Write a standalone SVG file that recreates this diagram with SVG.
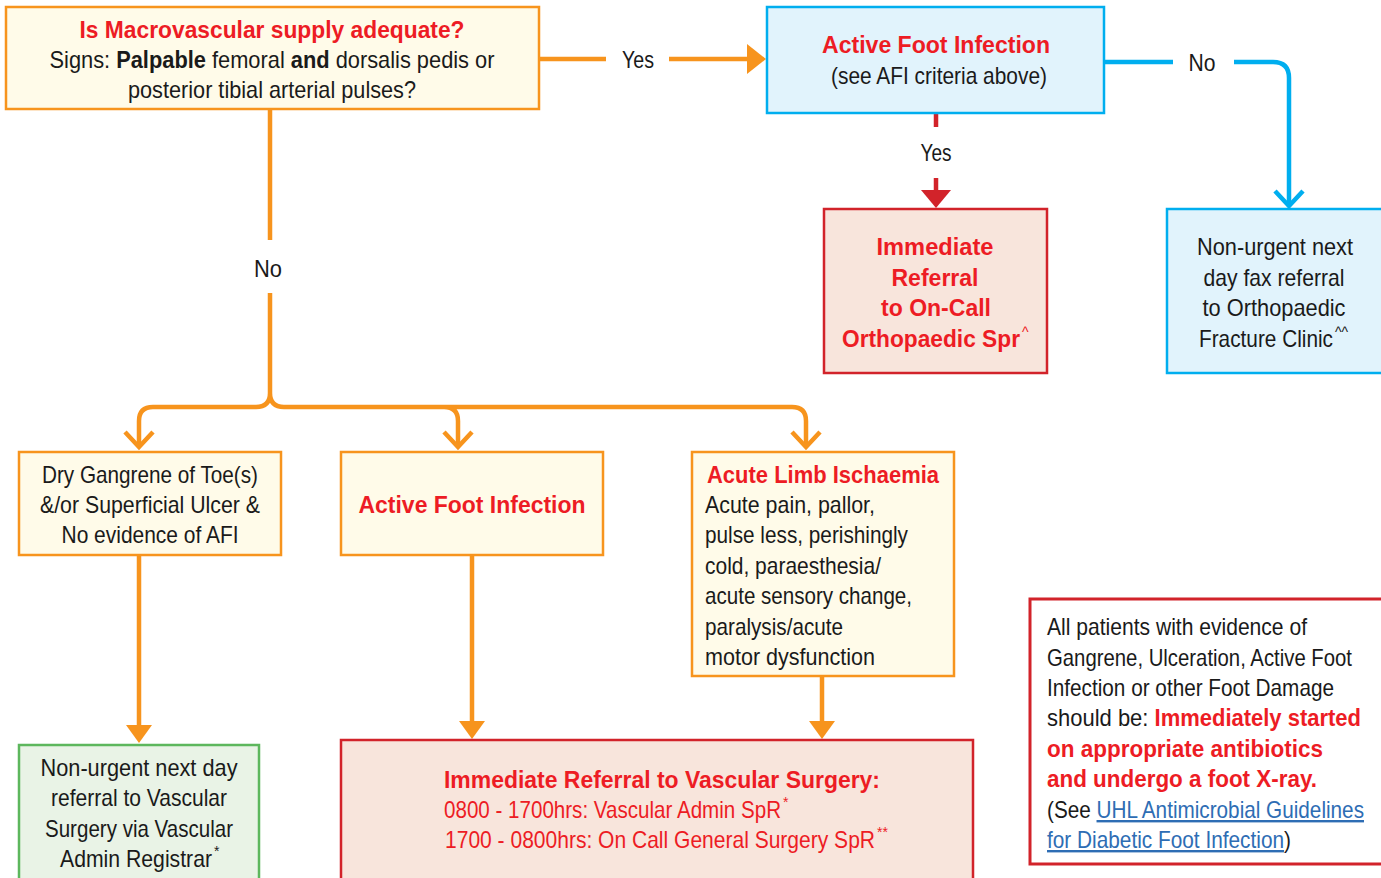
<svg xmlns="http://www.w3.org/2000/svg" width="1381" height="878" viewBox="0 0 1381 878">
<style>
text{font-family:"Liberation Sans",Arial,sans-serif;font-size:24px;fill:#1a1a1a}
.c{text-anchor:middle}
.r{fill:#ed1c24}
.b{font-weight:bold}
.sup{font-size:14px}
.cream{fill:#fffbe9;stroke:#f7941d;stroke-width:2.5}
.blue{fill:#e1f3fc;stroke:#00aeef;stroke-width:2.5}
.pink{fill:#f8e5dc;stroke:#d2232a;stroke-width:2.5}
.green{fill:#e9f3e6;stroke:#5db75d;stroke-width:2.5}
.note{fill:#ffffff;stroke:#d2232a;stroke-width:3}
.lo{fill:none;stroke:#f7941d;stroke-width:4.5}
.lb{fill:none;stroke:#00aeef;stroke-width:4.5}
.lr{fill:none;stroke:#d2232a;stroke-width:4.5}
.link{fill:#2e6db4;text-decoration:underline}
</style>
<g id="connectors">
<path class="lo" d="M539,59 H606 M669,59 H749"/>
<polygon points="747,44 766,59 747,74" fill="#f7941d"/>
<text class="c" x="638" y="68" textLength="32" lengthAdjust="spacingAndGlyphs">Yes</text>
<path class="lb" d="M1104,62 H1173 M1234,62 H1273 Q1289,62 1289,78 V205"/>
<path class="lb" d="M1275,191 L1289,206 L1303,191"/>
<text class="c" x="1202" y="71" textLength="27" lengthAdjust="spacingAndGlyphs">No</text>
<path class="lr" d="M936,113 V127 M936,178 V191"/>
<polygon points="921,190 951,190 936,208" fill="#d2232a"/>
<text class="c" x="936" y="161" textLength="31" lengthAdjust="spacingAndGlyphs">Yes</text>
<path class="lo" d="M270,109 V240 M270,293 V393 Q270,407 256,407 H153 Q139,407 139,421 V446 M270,393 Q270,407 284,407 H792 Q806,407 806,421 V446 M444,407 Q458,407 458,421 V446"/>
<path class="lo" d="M125,432 L139,447 L153,432 M444,432 L458,447 L472,432 M792,432 L806,447 L820,432"/>
<text class="c" x="268" y="277" textLength="28" lengthAdjust="spacingAndGlyphs">No</text>
<path class="lo" d="M139,555 V726 M472,555 V722 M822,676 V722"/>
<polygon points="126,725 152,725 139,743" fill="#f7941d"/>
<polygon points="459,721 485,721 472,739" fill="#f7941d"/>
<polygon points="809,721 835,721 822,739" fill="#f7941d"/>
</g>
<g id="macrovascular">
<rect class="cream" x="6" y="7" width="533" height="102"/>
<text class="c r b" x="272" y="38" textLength="385" lengthAdjust="spacingAndGlyphs">Is Macrovascular supply adequate?</text>
<text class="c" x="272" y="68" textLength="445" lengthAdjust="spacingAndGlyphs">Signs: <tspan class="b">Palpable</tspan> femoral <tspan class="b">and</tspan> dorsalis pedis or</text>
<text class="c" x="272" y="98" textLength="288" lengthAdjust="spacingAndGlyphs">posterior tibial arterial pulses?</text>
</g>
<g id="afi-top">
<rect class="blue" x="767" y="7" width="337" height="106"/>
<text class="c r b" x="936" y="53" textLength="228" lengthAdjust="spacingAndGlyphs">Active Foot Infection</text>
<text class="c" x="939" y="84" textLength="216" lengthAdjust="spacingAndGlyphs">(see AFI criteria above)</text>
</g>
<g id="ortho-spr">
<rect class="pink" x="824" y="209" width="223" height="164"/>
<text class="c r b" x="935" y="255" textLength="117" lengthAdjust="spacingAndGlyphs">Immediate</text>
<text class="c r b" x="935" y="286" textLength="87" lengthAdjust="spacingAndGlyphs">Referral</text>
<text class="c r b" x="936" y="316" textLength="110" lengthAdjust="spacingAndGlyphs">to On-Call</text>
<text class="r b" x="842" y="347" textLength="178" lengthAdjust="spacingAndGlyphs">Orthopaedic Spr</text>
<text class="r sup" x="1022" y="337">^</text>
</g>
<g id="fracture-clinic">
<rect class="blue" x="1167" y="209" width="220" height="164"/>
<text class="c" x="1275" y="255" textLength="156" lengthAdjust="spacingAndGlyphs">Non-urgent next</text>
<text class="c" x="1274" y="286" textLength="141" lengthAdjust="spacingAndGlyphs">day fax referral</text>
<text class="c" x="1274" y="316" textLength="143" lengthAdjust="spacingAndGlyphs">to Orthopaedic</text>
<text x="1199" y="347" textLength="134" lengthAdjust="spacingAndGlyphs">Fracture Clinic</text>
<text class="sup" x="1335" y="337">^^</text>
</g>
<g id="dry-gangrene">
<rect class="cream" x="19" y="452" width="262" height="103"/>
<text class="c" x="150" y="483" textLength="216" lengthAdjust="spacingAndGlyphs">Dry Gangrene of Toe(s)</text>
<text class="c" x="150" y="513" textLength="220" lengthAdjust="spacingAndGlyphs">&amp;/or Superficial Ulcer &amp;</text>
<text class="c" x="150" y="543" textLength="177" lengthAdjust="spacingAndGlyphs">No evidence of AFI</text>
</g>
<g id="afi-mid">
<rect class="cream" x="341" y="452" width="262" height="103"/>
<text class="c r b" x="472" y="513" textLength="227" lengthAdjust="spacingAndGlyphs">Active Foot Infection</text>
</g>
<g id="acute-limb">
<rect class="cream" x="692" y="452" width="262" height="224"/>
<text class="r b" x="707" y="483" textLength="232" lengthAdjust="spacingAndGlyphs">Acute Limb Ischaemia</text>
<text x="705" y="513" textLength="170" lengthAdjust="spacingAndGlyphs">Acute pain, pallor,</text>
<text x="705" y="543" textLength="203" lengthAdjust="spacingAndGlyphs">pulse less, perishingly</text>
<text x="705" y="574" textLength="176" lengthAdjust="spacingAndGlyphs">cold, paraesthesia/</text>
<text x="705" y="604" textLength="207" lengthAdjust="spacingAndGlyphs">acute sensory change,</text>
<text x="705" y="635" textLength="138" lengthAdjust="spacingAndGlyphs">paralysis/acute</text>
<text x="705" y="665" textLength="170" lengthAdjust="spacingAndGlyphs">motor dysfunction</text>
</g>
<g id="vascular-admin">
<rect class="green" x="19" y="745" width="240" height="140"/>
<text class="c" x="139" y="776" textLength="197" lengthAdjust="spacingAndGlyphs">Non-urgent next day</text>
<text class="c" x="139" y="806" textLength="176" lengthAdjust="spacingAndGlyphs">referral to Vascular</text>
<text class="c" x="139" y="837" textLength="188" lengthAdjust="spacingAndGlyphs">Surgery via Vascular</text>
<text x="60" y="867" textLength="152" lengthAdjust="spacingAndGlyphs">Admin Registrar</text>
<text class="sup" x="214" y="856">*</text>
</g>
<g id="vascular-surgery">
<rect class="pink" x="341" y="740" width="632" height="145"/>
<text class="r b" x="444" y="788" textLength="436" lengthAdjust="spacingAndGlyphs">Immediate Referral to Vascular Surgery:</text>
<text class="r" x="444" y="818" textLength="337" lengthAdjust="spacingAndGlyphs">0800 - 1700hrs:  Vascular Admin SpR</text>
<text class="r sup" x="783" y="807">*</text>
<text class="r" x="445" y="848" textLength="430" lengthAdjust="spacingAndGlyphs">1700 - 0800hrs: On Call General Surgery SpR</text>
<text class="r sup" x="877" y="837">**</text>
</g>
<g id="antibiotics-note">
<rect class="note" x="1030" y="599" width="360" height="265"/>
<text x="1047" y="635" textLength="260" lengthAdjust="spacingAndGlyphs">All patients with evidence of</text>
<text x="1047" y="666" textLength="305" lengthAdjust="spacingAndGlyphs">Gangrene, Ulceration, Active Foot</text>
<text x="1047" y="696" textLength="287" lengthAdjust="spacingAndGlyphs">Infection or other Foot Damage</text>
<text x="1047" y="726" textLength="314" lengthAdjust="spacingAndGlyphs">should be: <tspan class="r b">Immediately started</tspan></text>
<text class="r b" x="1047" y="757" textLength="276" lengthAdjust="spacingAndGlyphs">on appropriate antibiotics</text>
<text class="r b" x="1047" y="787" textLength="270" lengthAdjust="spacingAndGlyphs">and undergo a foot X-ray.</text>
<text x="1047" y="818" textLength="317" lengthAdjust="spacingAndGlyphs">(See <tspan class="link">UHL Antimicrobial Guidelines </tspan></text>
<text x="1047" y="848" textLength="244" lengthAdjust="spacingAndGlyphs"><tspan class="link">for Diabetic Foot Infection</tspan>)</text>
</g>
</svg>
